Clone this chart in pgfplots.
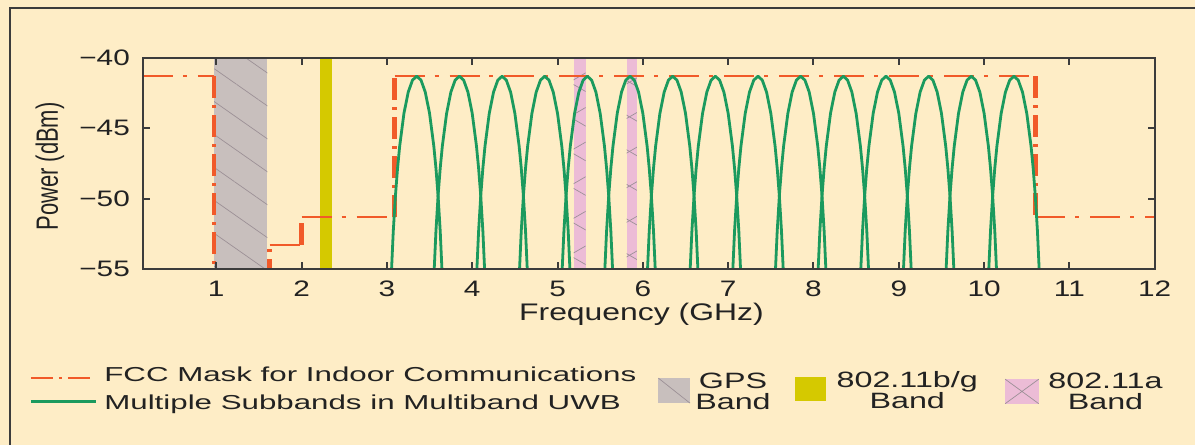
\documentclass[border=0pt]{standalone}
\usepackage{fontspec}
\setmainfont{Liberation Sans}[FakeStretch=1.33]
\newfontfamily\plainsans{Liberation Sans}
\newfontfamily\legfont{Liberation Sans}[FakeStretch=1.55]
\newfontfamily\bandfont{Liberation Sans}[FakeStretch=1.455]
\usepackage{graphicx}
\usepackage{pgfplots}
\pgfplotsset{compat=1.18}
\usetikzlibrary{patterns.meta}

\definecolor{cream}{HTML}{FEEDC6}
\definecolor{frame}{HTML}{3C3C3C}
\definecolor{fcc}{HTML}{F15A29}
\definecolor{uwb}{HTML}{1B9A5E}
\definecolor{gpsgray}{HTML}{C8BFBD}
\definecolor{bgyellow}{HTML}{D5C900}
\definecolor{apink}{HTML}{ECBCD6}
\definecolor{hatch}{HTML}{9C9096}
\definecolor{txt}{HTML}{222222}

\pgfplotsset{
  band/.style={uwb, line width=1.4pt, line join=round},
  maskh/.style={fcc, line width=1pt, dash pattern=on 15pt off 5pt on 2pt off 5.5pt},
  maskv/.style={fcc, line width=2.3pt, dash pattern=on 11pt off 3.5pt on 1.5pt off 3.5pt},
}

\begin{document}
\begin{tikzpicture}[x=1pt,y=1pt]
\fill[cream] (0,0) rectangle (598,222.5);
\draw[frame, line width=1pt] (5,0) -- (5,218.5) -- (598,218.5);

\begin{axis}[
  at={(71.5pt,88pt)}, anchor=south west, scale only axis,
  width=506.35pt, height=105.5pt,
  xmin=0.14, xmax=12, ymin=-55, ymax=-40,
  xtick={1,2,...,12},
  xticklabels={1,2,3,4,5,6,7,8,9,10,11,12},
  ytick={-55,-50,-45,-40},
  yticklabels={−55,−50,−45,−40},
  tick align=inside, major tick length=3.5pt,
  tick style={frame, line width=1pt},
  axis line style={frame, line width=0.75pt},
  axis on top,
  tick label style={font=\fontsize{11.2}{13}\selectfont, text=txt},
  xticklabel style={yshift=-2.6pt},
  yticklabel style={xshift=-3pt},
  xlabel={Frequency (GHz)},
  xlabel style={at={(axis description cs:0.4927,-0.218)}, anchor=center,
    font=\fontsize{12}{14}\selectfont, text=txt},
  ylabel={\plainsans\fontsize{11}{13}\selectfont\scalebox{1}[1.4]{Power (dBm)}},
  ylabel style={at={(axis description cs:-0.0918,0.485)}, anchor=center, text=txt},
]

% interference bands
\addplot[draw=none, fill=gpsgray] coordinates {(0.975,-55) (0.975,-40) (1.60,-40) (1.60,-55)} --cycle;
\addplot[draw=none, pattern={Lines[angle=-35,distance=13.5pt,line width=0.35pt]}, pattern color=hatch]
  coordinates {(0.975,-55) (0.975,-40) (1.60,-40) (1.60,-55)} --cycle;
\addplot[draw=none, fill=bgyellow] coordinates {(2.22,-55) (2.22,-40) (2.36,-40) (2.36,-55)} --cycle;
\addplot[draw=none, fill=apink] coordinates {(5.19,-55) (5.19,-40) (5.33,-40) (5.33,-55)} --cycle;
\addplot[draw=none, fill=apink] coordinates {(5.81,-55) (5.81,-40) (5.93,-40) (5.93,-55)} --cycle;
\addplot[draw=none, pattern={Lines[angle=30,distance=15pt,line width=0.35pt]}, pattern color=hatch]
  coordinates {(5.19,-55) (5.19,-40) (5.33,-40) (5.33,-55)} --cycle;
\addplot[draw=none, pattern={Lines[angle=-30,distance=15pt,line width=0.35pt]}, pattern color=hatch]
  coordinates {(5.19,-55) (5.19,-40) (5.33,-40) (5.33,-55)} --cycle;
\addplot[draw=none, pattern={Lines[angle=30,distance=15pt,line width=0.35pt]}, pattern color=hatch]
  coordinates {(5.81,-55) (5.81,-40) (5.93,-40) (5.93,-55)} --cycle;
\addplot[draw=none, pattern={Lines[angle=-30,distance=15pt,line width=0.35pt]}, pattern color=hatch]
  coordinates {(5.81,-55) (5.81,-40) (5.93,-40) (5.93,-55)} --cycle;

% FCC indoor mask
\addplot[maskh] coordinates {(0.14,-41.3) (0.975,-41.3)};
\addplot[maskh] coordinates {(1.625,-53.3) (2.0,-53.3)};
\addplot[maskh] coordinates {(2.0,-51.3) (3.09,-51.3)};
\addplot[maskh] coordinates {(3.09,-41.3) (10.6,-41.3)};
\addplot[maskh] coordinates {(10.6,-51.3) (12,-51.3)};
\addplot[maskv] coordinates {(0.975,-41.3) (0.975,-75.3)};
\addplot[maskv] coordinates {(1.625,-75.3) (1.625,-53.3)};
\addplot[maskv] coordinates {(2.0,-53.3) (2.0,-51.3)};
\addplot[maskv] coordinates {(3.09,-51.3) (3.09,-41.3)};
\addplot[maskv] coordinates {(10.6,-41.3) (10.6,-51.3)};

% UWB subbands
\addplot[band] coordinates {(3.05,-55.68)(3.075,-52.31)(3.1,-49.81)(3.125,-47.85)(3.15,-46.27)(3.2,-43.94)(3.25,-42.43)(3.3,-41.58)(3.35,-41.3)(3.4,-41.58)(3.45,-42.43)(3.5,-43.94)(3.55,-46.27)(3.575,-47.85)(3.6,-49.81)(3.625,-52.31)(3.65,-55.68)};
\addplot[band] coordinates {(3.55,-55.68)(3.575,-52.31)(3.6,-49.81)(3.625,-47.85)(3.65,-46.27)(3.7,-43.94)(3.75,-42.43)(3.8,-41.58)(3.85,-41.3)(3.9,-41.58)(3.95,-42.43)(4.0,-43.94)(4.05,-46.27)(4.075,-47.85)(4.1,-49.81)(4.125,-52.31)(4.15,-55.68)};
\addplot[band] coordinates {(4.05,-55.68)(4.075,-52.31)(4.1,-49.81)(4.125,-47.85)(4.15,-46.27)(4.2,-43.94)(4.25,-42.43)(4.3,-41.58)(4.35,-41.3)(4.4,-41.58)(4.45,-42.43)(4.5,-43.94)(4.55,-46.27)(4.575,-47.85)(4.6,-49.81)(4.625,-52.31)(4.65,-55.68)};
\addplot[band] coordinates {(4.55,-55.68)(4.575,-52.31)(4.6,-49.81)(4.625,-47.85)(4.65,-46.27)(4.7,-43.94)(4.75,-42.43)(4.8,-41.58)(4.85,-41.3)(4.9,-41.58)(4.95,-42.43)(5.0,-43.94)(5.05,-46.27)(5.075,-47.85)(5.1,-49.81)(5.125,-52.31)(5.15,-55.68)};
\addplot[band] coordinates {(5.05,-55.68)(5.075,-52.31)(5.1,-49.81)(5.125,-47.85)(5.15,-46.27)(5.2,-43.94)(5.25,-42.43)(5.3,-41.58)(5.35,-41.3)(5.4,-41.58)(5.45,-42.43)(5.5,-43.94)(5.55,-46.27)(5.575,-47.85)(5.6,-49.81)(5.625,-52.31)(5.65,-55.68)};
\addplot[band] coordinates {(5.55,-55.68)(5.575,-52.31)(5.6,-49.81)(5.625,-47.85)(5.65,-46.27)(5.7,-43.94)(5.75,-42.43)(5.8,-41.58)(5.85,-41.3)(5.9,-41.58)(5.95,-42.43)(6.0,-43.94)(6.05,-46.27)(6.075,-47.85)(6.1,-49.81)(6.125,-52.31)(6.15,-55.68)};
\addplot[band] coordinates {(6.05,-55.68)(6.075,-52.31)(6.1,-49.81)(6.125,-47.85)(6.15,-46.27)(6.2,-43.94)(6.25,-42.43)(6.3,-41.58)(6.35,-41.3)(6.4,-41.58)(6.45,-42.43)(6.5,-43.94)(6.55,-46.27)(6.575,-47.85)(6.6,-49.81)(6.625,-52.31)(6.65,-55.68)};
\addplot[band] coordinates {(6.55,-55.68)(6.575,-52.31)(6.6,-49.81)(6.625,-47.85)(6.65,-46.27)(6.7,-43.94)(6.75,-42.43)(6.8,-41.58)(6.85,-41.3)(6.9,-41.58)(6.95,-42.43)(7.0,-43.94)(7.05,-46.27)(7.075,-47.85)(7.1,-49.81)(7.125,-52.31)(7.15,-55.68)};
\addplot[band] coordinates {(7.05,-55.68)(7.075,-52.31)(7.1,-49.81)(7.125,-47.85)(7.15,-46.27)(7.2,-43.94)(7.25,-42.43)(7.3,-41.58)(7.35,-41.3)(7.4,-41.58)(7.45,-42.43)(7.5,-43.94)(7.55,-46.27)(7.575,-47.85)(7.6,-49.81)(7.625,-52.31)(7.65,-55.68)};
\addplot[band] coordinates {(7.55,-55.68)(7.575,-52.31)(7.6,-49.81)(7.625,-47.85)(7.65,-46.27)(7.7,-43.94)(7.75,-42.43)(7.8,-41.58)(7.85,-41.3)(7.9,-41.58)(7.95,-42.43)(8.0,-43.94)(8.05,-46.27)(8.075,-47.85)(8.1,-49.81)(8.125,-52.31)(8.15,-55.68)};
\addplot[band] coordinates {(8.05,-55.68)(8.075,-52.31)(8.1,-49.81)(8.125,-47.85)(8.15,-46.27)(8.2,-43.94)(8.25,-42.43)(8.3,-41.58)(8.35,-41.3)(8.4,-41.58)(8.45,-42.43)(8.5,-43.94)(8.55,-46.27)(8.575,-47.85)(8.6,-49.81)(8.625,-52.31)(8.65,-55.68)};
\addplot[band] coordinates {(8.55,-55.68)(8.575,-52.31)(8.6,-49.81)(8.625,-47.85)(8.65,-46.27)(8.7,-43.94)(8.75,-42.43)(8.8,-41.58)(8.85,-41.3)(8.9,-41.58)(8.95,-42.43)(9.0,-43.94)(9.05,-46.27)(9.075,-47.85)(9.1,-49.81)(9.125,-52.31)(9.15,-55.68)};
\addplot[band] coordinates {(9.05,-55.68)(9.075,-52.31)(9.1,-49.81)(9.125,-47.85)(9.15,-46.27)(9.2,-43.94)(9.25,-42.43)(9.3,-41.58)(9.35,-41.3)(9.4,-41.58)(9.45,-42.43)(9.5,-43.94)(9.55,-46.27)(9.575,-47.85)(9.6,-49.81)(9.625,-52.31)(9.65,-55.68)};
\addplot[band] coordinates {(9.55,-55.68)(9.575,-52.31)(9.6,-49.81)(9.625,-47.85)(9.65,-46.27)(9.7,-43.94)(9.75,-42.43)(9.8,-41.58)(9.85,-41.3)(9.9,-41.58)(9.95,-42.43)(10.0,-43.94)(10.05,-46.27)(10.075,-47.85)(10.1,-49.81)(10.125,-52.31)(10.15,-55.68)};
\addplot[band] coordinates {(10.05,-55.68)(10.075,-52.31)(10.1,-49.81)(10.125,-47.85)(10.15,-46.27)(10.2,-43.94)(10.25,-42.43)(10.3,-41.58)(10.35,-41.3)(10.4,-41.58)(10.45,-42.43)(10.5,-43.94)(10.55,-46.27)(10.575,-47.85)(10.6,-49.81)(10.625,-52.31)(10.65,-55.68)};
\end{axis}

% legend
\draw[fcc, line width=0.8pt, dash pattern=on 11pt off 3pt on 1.3pt off 3.2pt] (15.5,33.35) -- (46.5,33.35);
\draw[uwb, line width=1.4pt] (15.5,21.65) -- (47.8,21.65);
\begin{scope}[every node/.style={inner sep=0, text=txt, font=\legfont\fontsize{10.1}{12}\selectfont}]
\node[anchor=base west] at (52,31.35) {FCC Mask for Indoor Communications};
\node[anchor=base west] at (52,17.5) {Multiple Subbands in Multiband UWB};
\end{scope}

\fill[gpsgray] (329.5,20.75) rectangle (345.3,33.25);
\draw[hatch, line width=0.35pt] (329.5,33.25) -- (345.3,20.75);
\fill[bgyellow] (398,22) rectangle (413.5,34);
\fill[apink] (503,20.5) rectangle (519.8,32.75);
\draw[hatch, line width=0.35pt] (503,32.75) -- (519.8,20.5) (503,20.5) -- (519.8,32.75);

\begin{scope}[every node/.style={inner sep=0, anchor=base, text=txt, font=\bandfont\fontsize{11.1}{13}\selectfont}]
\node at (366.8,28.25) {GPS};
\node at (366.8,17.75) {Band};
\node at (454,28.5) {802.11b/g};
\node at (454,18.0) {Band};
\node at (553.2,28.25) {802.11a};
\node at (553.2,17.75) {Band};
\end{scope}
\end{tikzpicture}
\end{document}
